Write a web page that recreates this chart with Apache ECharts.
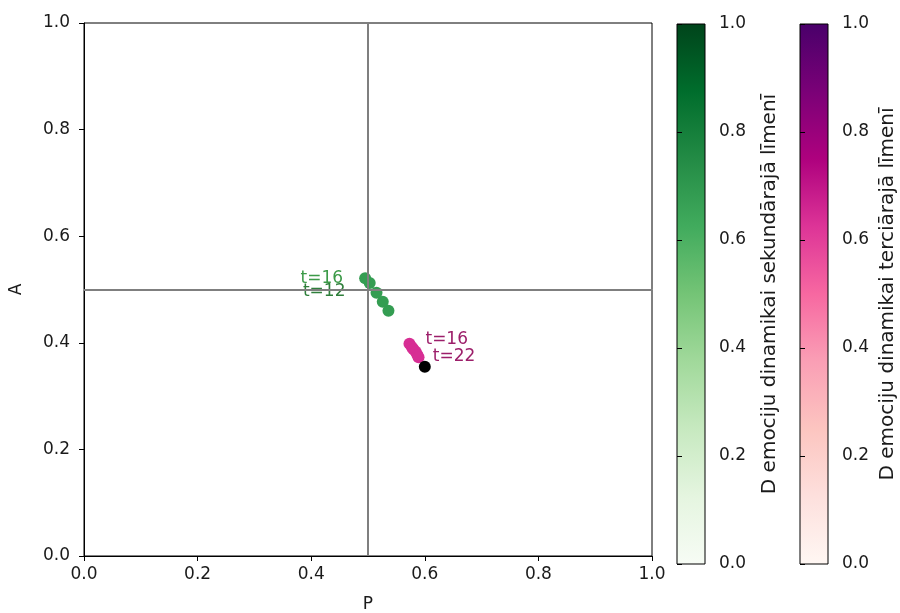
<!DOCTYPE html>
<html>
<head>
<meta charset="utf-8">
<script src="https://cdn.jsdelivr.net/npm/echarts@6/dist/echarts.min.js"></script>
<style>
  html, body { margin: 0; padding: 0; background: #fff; }
  #chart { width: 900px; height: 613px; }
</style>
</head>
<body>
<div id="chart"></div>
<script>
// Trajectory on the secondary level (t = 12 .. 16): [P, A, D]
const secondaryPoints = [
  [0.536, 0.460, 0.68],
  [0.526, 0.477, 0.68],
  [0.515, 0.494, 0.68],
  [0.503, 0.512, 0.68],
  [0.495, 0.521, 0.68]
];
// Trajectory on the tertiary level (t = 16 .. 21): [P, A, D]
const tertiaryPoints = [
  [0.573, 0.398, 0.64],
  [0.577, 0.392, 0.64],
  [0.580, 0.388, 0.64],
  [0.584, 0.383, 0.64],
  [0.587, 0.377, 0.64],
  [0.589, 0.373, 0.64]
];
// Final state (t = 22)
const finalPoint = [[0.600, 0.355]];

const secondaryLabels = { 4: 't=16', 0: 't=12' };
const tertiaryLabels = { 0: 't=16' };
const finalLabel = 't=22';

const greensMap = ['#f7fcf5', '#e5f5e0', '#c7e9c0', '#a1d99b', '#74c476', '#41ab5d', '#238b45', '#006d2c', '#00441b'];
const rdpuMap = ['#fff7f3', '#fde0dd', '#fcc5c0', '#fa9fb5', '#f768a1', '#dd3497', '#ae017e', '#7a0177', '#49006a'];

const secondaryTitle = 'D emociju dinamikai sekundārajā līmenī';
const tertiaryTitle = 'D emociju dinamikai terciārajā līmenī';

const FONT = 'DejaVu Sans';
const TXT = '#1a1a1a';

function gradientOf(stops) {
  const n = stops.length - 1;
  return {
    type: 'linear', x: 0, y: 1, x2: 0, y2: 0,
    colorStops: stops.map((c, i) => ({ offset: i / n, color: c }))
  };
}

function colorbarAxis(gridIndex, title, gap) {
  return {
    gridIndex, type: 'value', position: 'right', min: 0, max: 1, interval: 0.2,
    axisLine: { show: false },
    axisTick: { show: true, length: 5, lineStyle: { color: '#000', width: 1 } },
    axisLabel: { color: TXT, fontFamily: FONT, fontSize: 17, margin: 14, formatter: v => v.toFixed(1) },
    splitLine: { show: false },
    name: title, nameLocation: 'middle', nameGap: gap,
    nameTextStyle: { color: TXT, fontFamily: FONT, fontSize: 20 }
  };
}

const chart = echarts.init(document.getElementById('chart'), null, { renderer: 'canvas' });

const greenLabelColors = { 4: '#3c9a48', 0: '#2f7f3b' };
const greenLabelOffsets = { 4: [-16, 0], 0: [-37, -19] };
const secData = secondaryPoints.map((p, i) => {
  const item = { value: p };
  if (secondaryLabels[i]) {
    item.label = {
      show: true, formatter: secondaryLabels[i], position: 'left', distance: 0,
      color: greenLabelColors[i], fontFamily: FONT, fontSize: 17,
      offset: greenLabelOffsets[i]
    };
  }
  return item;
});
const terData = tertiaryPoints.map((p, i) => {
  const item = { value: p };
  if (tertiaryLabels[i]) {
    item.label = {
      show: true, formatter: tertiaryLabels[i], position: 'right', distance: 0,
      color: '#9c1f6a', fontFamily: FONT, fontSize: 17, offset: [10, -4]
    };
  }
  return item;
});
const finData = finalPoint.map(p => ({
  value: p,
  label: {
    show: true, formatter: finalLabel, position: 'right', distance: 0,
    color: '#9c1f6a', fontFamily: FONT, fontSize: 17, offset: [2, -10]
  }
}));

const gridBase = { show: true, borderColor: '#000', borderWidth: 1, outerBoundsMode: 'none', containLabel: false };

chart.setOption({
  animation: false,
  backgroundColor: '#fff',
  grid: [
    Object.assign({ left: 84, top: 23, width: 568, height: 533, backgroundColor: 'transparent' }, gridBase),
    Object.assign({ left: 677, top: 24, width: 28, height: 540, backgroundColor: gradientOf(greensMap) }, gridBase),
    Object.assign({ left: 800, top: 24, width: 28, height: 540, backgroundColor: gradientOf(rdpuMap) }, gridBase)
  ],
  xAxis: [
    {
      gridIndex: 0, type: 'value', min: 0, max: 1, interval: 0.2,
      axisLine: { show: true, onZero: false, lineStyle: { color: '#000', width: 1 } },
      axisTick: { show: true, length: 5, lineStyle: { color: '#000' } },
      axisLabel: { color: TXT, fontFamily: FONT, fontSize: 17, margin: 10, formatter: v => v.toFixed(1) },
      splitLine: { show: false },
      name: 'P', nameLocation: 'middle', nameGap: 40,
      nameTextStyle: { color: TXT, fontFamily: FONT, fontSize: 17 }
    },
    { gridIndex: 1, type: 'value', min: 0, max: 1, show: false },
    { gridIndex: 2, type: 'value', min: 0, max: 1, show: false }
  ],
  yAxis: [
    {
      gridIndex: 0, type: 'value', min: 0, max: 1, interval: 0.2,
      axisLine: { show: true, onZero: false, lineStyle: { color: '#000', width: 1 } },
      axisTick: { show: true, length: 5, lineStyle: { color: '#000' } },
      axisLabel: { color: TXT, fontFamily: FONT, fontSize: 17, margin: 14, formatter: v => v.toFixed(1) },
      splitLine: { show: false },
      name: 'A', nameLocation: 'middle', nameGap: 59,
      nameTextStyle: { color: TXT, fontFamily: FONT, fontSize: 17 }
    },
    colorbarAxis(1, secondaryTitle, 55),
    colorbarAxis(2, tertiaryTitle, 50)
  ],
  visualMap: [
    { show: false, seriesIndex: 1, dimension: 2, min: 0, max: 1, inRange: { color: greensMap } },
    { show: false, seriesIndex: 2, dimension: 2, min: 0, max: 1, inRange: { color: rdpuMap } }
  ],
  series: [
    {
      // quadrant dividers at P = 0.5 and A = 0.5
      type: 'scatter', xAxisIndex: 0, yAxisIndex: 0, data: [], z: 1,
      markLine: {
        silent: true, symbol: 'none', animation: false,
        label: { show: false },
        lineStyle: { color: '#7f7f7f', width: 2, type: 'solid' },
        data: [{ xAxis: 0.5 }, { yAxis: 0.5 }]
      }
    },
    {
      type: 'scatter', xAxisIndex: 0, yAxisIndex: 0, symbolSize: 12, z: 3,
      itemStyle: { opacity: 1 },
      data: secData
    },
    {
      type: 'scatter', xAxisIndex: 0, yAxisIndex: 0, symbolSize: 12, z: 3,
      itemStyle: { opacity: 1 },
      data: terData
    },
    {
      type: 'scatter', xAxisIndex: 0, yAxisIndex: 0, symbolSize: 12, z: 4,
      itemStyle: { color: '#000', opacity: 1 },
      data: finData
    }
  ]
});
</script>
</body>
</html>
